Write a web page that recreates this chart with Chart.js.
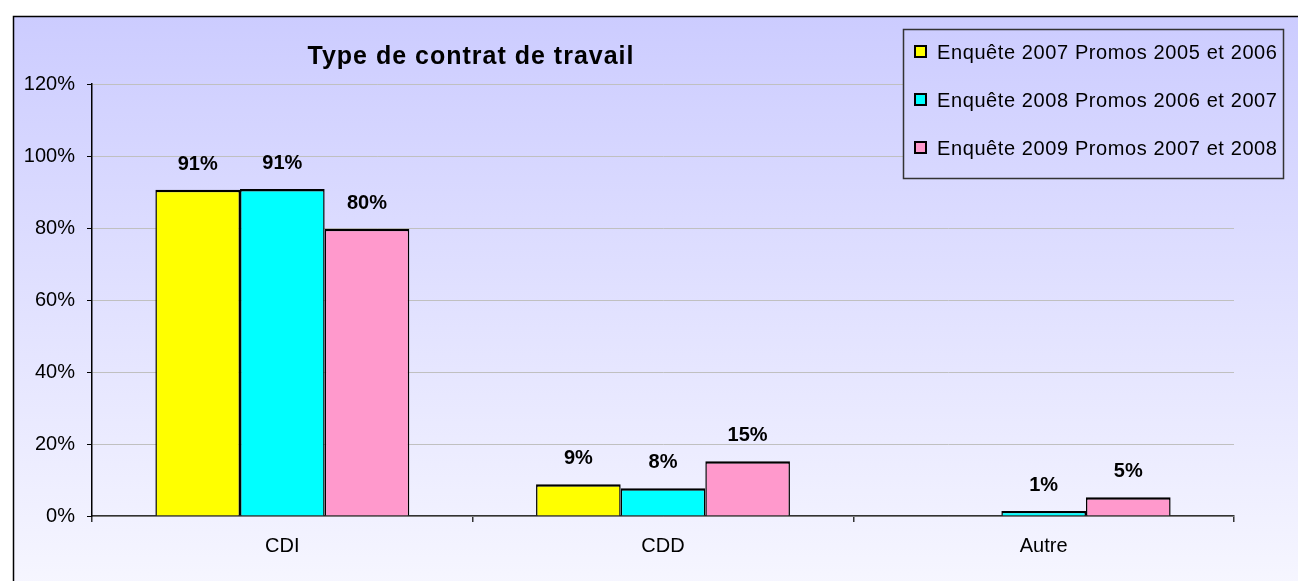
<!DOCTYPE html>
<html>
<head>
<meta charset="utf-8">
<title>Type de contrat de travail</title>
<script src="https://cdn.jsdelivr.net/npm/chart.js@4/dist/chart.umd.min.js"></script>
<style>
  html, body { margin: 0; padding: 0; background: #fff; overflow: hidden; }
  #wrap { position: relative; width: 1298px; height: 581px; }
</style>
</head>
<body>
<div id="wrap"><canvas id="graphique" width="1298" height="581"></canvas></div>
<script>
// Données (en %)
const categories = ['CDI', 'CDD', 'Autre'];
const enquete2007 = [90.6, 8.8, null];
const enquete2008 = [90.8, 7.7, 1.4];
const enquete2009 = [79.8, 15.2, 5.2];
const libelles = [
  'Enquête 2007 Promos 2005 et 2006',
  'Enquête 2008 Promos 2006 et 2007',
  'Enquête 2009 Promos 2007 et 2008'
];
const couleurs = ['#ffff00', '#00ffff', '#ff99cc'];
const titre = 'Type de contrat de travail';

const police = '"Liberation Sans", Arial, sans-serif';

function degrade(ctx) {
  const g = ctx.createLinearGradient(0, 16, 0, 600);
  g.addColorStop(0, '#ccccff');
  g.addColorStop(1, '#f7f7ff');
  return g;
}

// Fond dégradé + cadre
const fond = {
  id: 'fond',
  beforeDraw(chart) {
    const ctx = chart.ctx;
    ctx.save();
    ctx.fillStyle = '#fff';
    ctx.fillRect(0, 0, chart.width, chart.height);
    ctx.fillStyle = degrade(ctx);
    ctx.fillRect(13, 16, chart.width, chart.height);
    ctx.strokeStyle = '#000';
    ctx.lineWidth = 1.5;
    ctx.strokeRect(13.5, 16.5, chart.width + 20, chart.height + 20);
    ctx.restore();
  }
};

// Titre et légende dessinés à la main
const titreLegende = {
  id: 'titreLegende',
  afterDraw(chart) {
    const ctx = chart.ctx;
    ctx.save();
    ctx.fillStyle = '#000';
    ctx.font = 'bold 25px ' + police;
    ctx.letterSpacing = '1px';
    ctx.textAlign = 'center';
    ctx.textBaseline = 'alphabetic';
    ctx.fillText(titre, 471, 64);

    // la légende cache le quadrillage
    ctx.fillStyle = degrade(ctx);
    ctx.fillRect(903.5, 29.5, 380, 149);
    ctx.letterSpacing = '0.6px';
    ctx.strokeStyle = '#333';
    ctx.lineWidth = 1.5;
    ctx.strokeRect(903.5, 29.5, 380, 149);
    ctx.font = '20px ' + police;
    ctx.textAlign = 'left';
    ctx.textBaseline = 'middle';
    libelles.forEach((txt, i) => {
      const y = 52 + i * 48;
      ctx.fillStyle = couleurs[i];
      ctx.fillRect(915, y - 6, 11, 11);
      ctx.strokeStyle = '#000';
      ctx.lineWidth = 2;
      ctx.strokeRect(915, y - 6, 11, 11);
      ctx.fillStyle = '#000';
      ctx.fillText(txt, 937, y + 1);
    });
    ctx.restore();
  }
};

// Étiquettes de valeur au-dessus des barres
const etiquettes = {
  id: 'etiquettes',
  afterDatasetsDraw(chart) {
    const ctx = chart.ctx;
    ctx.save();
    ctx.font = 'bold 20px ' + police;
    ctx.fillStyle = '#000';
    ctx.textAlign = 'center';
    ctx.textBaseline = 'alphabetic';
    chart.data.datasets.forEach((ds, i) => {
      chart.getDatasetMeta(i).data.forEach((bar, j) => {
        const v = ds.data[j];
        if (v === null) return;
        ctx.fillText(Math.round(v) + '%', bar.x, bar.y - 20);
      });
    });
    ctx.restore();
  }
};

const series = [enquete2007, enquete2008, enquete2009];

new Chart(document.getElementById('graphique'), {
  type: 'bar',
  data: {
    labels: categories,
    datasets: series.map((d, i) => ({
      label: libelles[i],
      data: d,
      backgroundColor: couleurs[i],
      borderColor: '#000',
      borderWidth: { top: 2.5, left: 1.5, right: 1.5, bottom: 0 },
      categoryPercentage: 0.667,
      barPercentage: 1
    }))
  },
  options: {
    responsive: false,
    animation: false,
    layout: { padding: { top: 84, right: 64, left: 0, bottom: 0 } },
    plugins: {
      legend: { display: false },
      title: { display: false },
      tooltip: { enabled: false }
    },
    scales: {
      x: {
        grid: { offset: true, drawOnChartArea: false, color: '#333', tickLength: 6, lineWidth: 1.5 },
        border: { color: '#333', width: 1.5 },
        ticks: { color: '#000', font: { family: police, size: 20 }, padding: 12 },
        afterFit: s => { s.height = 65; }
      },
      y: {
        min: 0,
        max: 120,
        ticks: {
          stepSize: 20,
          color: '#000',
          font: { family: police, size: 20 },
          padding: 12,
          callback: v => v + '%'
        },
        grid: { color: '#c0c0c0', tickColor: '#000', tickLength: 5 },
        border: { color: '#000', width: 1.5 },
        afterFit: s => { s.width = 92; }
      }
    }
  },
  plugins: [fond, titreLegende, etiquettes]
});
</script>
</body>
</html>
